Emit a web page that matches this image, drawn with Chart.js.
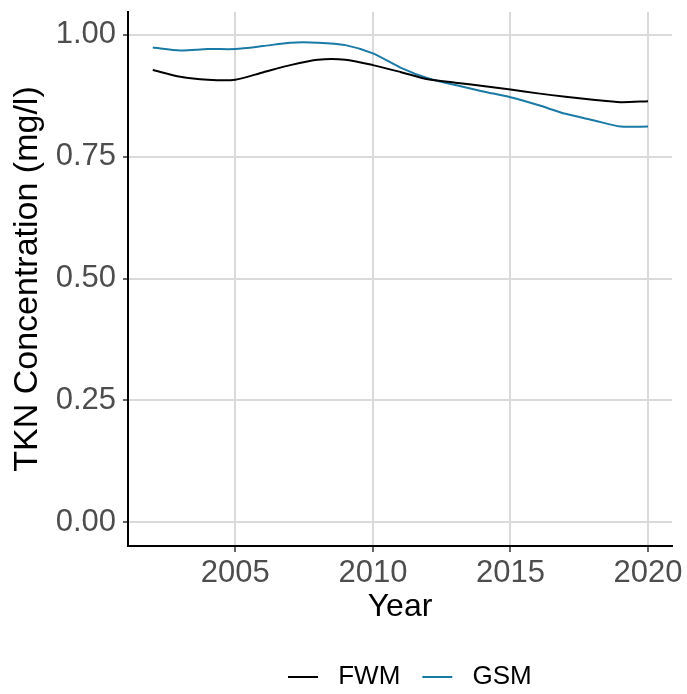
<!DOCTYPE html>
<html>
<head>
<meta charset="utf-8">
<script src="https://cdn.jsdelivr.net/npm/chart.js@4.4.0/dist/chart.umd.min.js"></script>
<style>
  html, body { margin: 0; padding: 0; background: #fff; }
  #wrap { width: 687px; height: 694px; }
</style>
</head>
<body>
<div id="wrap"><canvas id="chart" width="687" height="694"></canvas></div>
<script>
// values
const years = [2002, 2003, 2004, 2005, 2006, 2007, 2008, 2009, 2010, 2011,
               2012, 2013, 2014, 2015, 2016, 2017, 2018, 2019, 2020];
const fwm = [0.928, 0.914, 0.908, 0.908, 0.923, 0.938, 0.949, 0.949, 0.938, 0.924,
             0.909, 0.902, 0.895, 0.888, 0.880, 0.873, 0.867, 0.862, 0.864];
const gsm = [0.974, 0.968, 0.971, 0.971, 0.977, 0.984, 0.984, 0.979, 0.962, 0.933,
             0.911, 0.897, 0.884, 0.872, 0.856, 0.838, 0.825, 0.812, 0.812];
const xTicks = [2005, 2010, 2015, 2020];
const yTicks = [0, 0.25, 0.5, 0.75, 1];

const toPts = (vals) => vals.map((v, i) => ({x: years[i], y: v}));

// ggplot puts the legend under the panel, not centred on the canvas
const moveLegend = {
  id: 'moveLegend',
  afterLayout(chart) {
    const l = chart.legend;
    const w = l.width;
    l.left = 266;
    l.right = 266 + w;
  }
};

const ctx = document.getElementById('chart');
new Chart(ctx, {
  type: 'line',
  data: {
    datasets: [
      {
        label: ' FWM',
        data: toPts(fwm),
        borderColor: '#000000',
        backgroundColor: '#000000',
        borderWidth: 2,
        pointRadius: 0,
        tension: 0.25
      },
      {
        label: ' GSM',
        data: toPts(gsm),
        borderColor: '#1a7aa6',
        backgroundColor: '#1a7aa6',
        borderWidth: 2,
        pointRadius: 0,
        tension: 0.25
      }
    ]
  },
  plugins: [moveLegend],
  options: {
    responsive: false,
    animation: false,
    layout: { padding: { top: 12, right: 15, bottom: -6, left: 0 } },
    plugins: {
      tooltip: { enabled: false },
      legend: {
        position: 'bottom',
        align: 'start',
        labels: {
          usePointStyle: true,
          pointStyle: 'line',
          pointStyleWidth: 30,
          padding: 22,
          color: '#000',
          font: { family: 'Liberation Sans', size: 26 }
        }
      }
    },
    scales: {
      x: {
        type: 'linear',
        min: 2001.1,
        max: 2020.87,
        afterBuildTicks: (s) => { s.ticks = xTicks.map(v => ({value: v})); },
        afterFit: (s) => { s.height = 96; s.paddingLeft = 0; s.paddingRight = 0; },
        grid: { color: '#dadada', lineWidth: 2, tickColor: '#333', tickLength: 6, tickWidth: 1.5 },
        border: { color: '#000', width: 2 },
        ticks: {
          color: '#4d4d4d',
          padding: 3,
          maxRotation: 0,
          font: { family: 'Liberation Sans', size: 31 },
          callback: (v) => String(v)
        },
        title: {
          display: true,
          text: 'Year',
          color: '#000',
          padding: { top: 0, bottom: 16 },
          font: { family: 'Liberation Sans', size: 32 }
        }
      },
      y: {
        min: -0.049,
        max: 1.047,
        afterBuildTicks: (s) => { s.ticks = yTicks.map(v => ({value: v})); },
        afterFit: (s) => { s.width = 128; s.paddingTop = 0; s.paddingBottom = 0; },
        grid: { color: '#dadada', lineWidth: 2, tickColor: '#333', tickLength: 5, tickWidth: 1.5 },
        border: { color: '#000', width: 2 },
        ticks: {
          color: '#4d4d4d',
          padding: 7,
          font: { family: 'Liberation Sans', size: 31 },
          callback: (v) => v.toFixed(2)
        },
        title: {
          display: true,
          text: 'TKN Concentration (mg/l)',
          color: '#000',
          padding: { top: 7, bottom: 0 },
          font: { family: 'Liberation Sans', size: 34 }
        }
      }
    }
  }
});
</script>
</body>
</html>
